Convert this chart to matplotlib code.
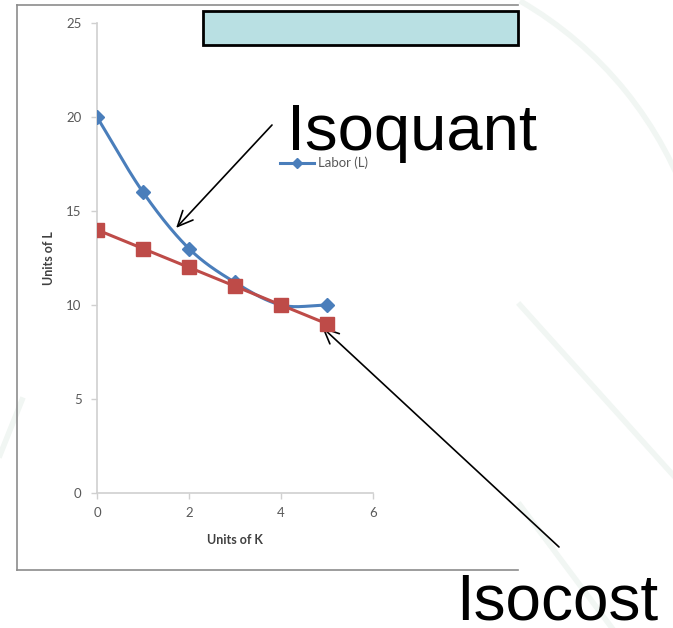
import numpy as np
import matplotlib.pyplot as plt
from matplotlib.lines import Line2D
from matplotlib.patches import Rectangle, Arc

# production data
units_k = [0, 1, 2, 3, 4, 5]
labor_isoquant = [20, 16, 13, 11.2, 10, 10]
labor_isocost = [14, 13, 12, 11, 10, 9]
x_ticks = [0, 2, 4, 6]
y_ticks = [0, 5, 10, 15, 20, 25]

BLUE = '#4a7ebb'
RED = '#be4b48'
GREY_TXT = '#595959'


def smooth(xs, ys, n=30):
    # catmull-rom style smoothing like a spreadsheet "smoothed line"
    xs = np.asarray(xs, float)
    ys = np.asarray(ys, float)
    px = np.concatenate([[2 * xs[0] - xs[1]], xs, [2 * xs[-1] - xs[-2]]])
    py = np.concatenate([[2 * ys[0] - ys[1]], ys, [2 * ys[-1] - ys[-2]]])
    out_x, out_y = [], []
    t = np.linspace(0, 1, n)
    for i in range(1, len(px) - 2):
        for p, out in ((px, out_x), (py, out_y)):
            p0, p1, p2, p3 = p[i - 1], p[i], p[i + 1], p[i + 2]
            out.extend(0.5 * ((2 * p1) + (-p0 + p2) * t
                              + (2 * p0 - 5 * p1 + 4 * p2 - p3) * t ** 2
                              + (-p0 + 3 * p1 - 3 * p2 + p3) * t ** 3))
    return np.array(out_x), np.array(out_y)


W, H = 673, 628
fig = plt.figure(figsize=(W / 100, H / 100), dpi=100)

# faint slide decoration in the background
bg = fig.add_axes([0, 0, 1, 1], zorder=-5)
bg.set_xlim(0, W)
bg.set_ylim(H, 0)
bg.axis('off')
deco = '#f1f6f3'
bg.add_patch(Arc((330, 330), 760, 760, theta1=-60, theta2=-18, color=deco, lw=4))
bg.plot([520, 673], [305, 475], color=deco, lw=4)
bg.plot([520, 612], [505, 628], color=deco, lw=4)
bg.plot([0, 22], [455, 400], color=deco, lw=4)

# chart area frame
frame = '#8c8c8c'
bg.plot([17, 17], [5, 570], color=frame, lw=1.2)
bg.plot([17, 518], [5, 5], color=frame, lw=1.2)
bg.plot([17, 518], [570, 570], color=frame, lw=1.2)

# title placeholder box
bg.add_patch(Rectangle((203, 11), 315, 34, facecolor='#b9e0e3',
                       edgecolor='black', lw=2, zorder=3))

ax = fig.add_axes([97 / W, 1 - 493 / H, 276 / W, 470 / H])
ax.patch.set_alpha(0)

sx, sy = smooth(units_k, labor_isoquant)
ax.plot(sx, sy, color=BLUE, lw=2.2, zorder=2)
ax.plot(units_k, labor_isoquant, linestyle='none', marker='D', ms=7,
        color=BLUE, zorder=3)
ax.plot(units_k, labor_isocost, color=RED, lw=2.2, marker='s', ms=9.5,
        zorder=4)

ax.set_xlim(0, 6)
ax.set_ylim(0, 25)
ax.set_xticks(x_ticks)
ax.set_yticks(y_ticks)
for s in ['top', 'right']:
    ax.spines[s].set_visible(False)
for s in ['left', 'bottom']:
    ax.spines[s].set_color('#d0d0d0')
    ax.spines[s].set_linewidth(1.2)
ax.tick_params(colors='#d0d0d0', labelcolor=GREY_TXT, length=4, width=1,
               labelsize=9.5)
ax.tick_params(axis='y', pad=7)
ax.tick_params(axis='x', pad=6)
for lbl in ax.get_xticklabels() + ax.get_yticklabels():
    lbl.set_family('Lato')

ax.set_xlabel('Units of K', fontsize=9, fontweight='bold', family='Lato',
              color='#404040', labelpad=11)
ax.set_ylabel('Units of L', fontsize=9, fontweight='bold', family='Lato',
              color='#404040', labelpad=8)

# legend (only the labour series is listed)
handle = Line2D([], [], color=BLUE, lw=2.2, marker='D', ms=5)
fig.legend([handle], ['Labor (L)'], loc='center left',
           bbox_to_anchor=(268 / W, 1 - 163 / H), frameon=False,
           handlelength=2.6, handletextpad=0.3,
           prop={'family': 'Lato', 'size': 9.5}, labelcolor=GREY_TXT)

# callouts
fig.text(287 / W, 1 - 150 / H, 'Isoquant', fontsize=47,
         family='Liberation Sans', va='baseline', ha='left')
fig.text(456 / W, 1 - 620 / H, 'Isocost', fontsize=46,
         family='Liberation Sans', va='baseline', ha='left')

arrow = dict(arrowstyle='->,head_length=1.1,head_width=0.5', color='black',
             lw=1.2, shrinkA=0, shrinkB=0)
ax.annotate('', xy=(1.72, 14.1), xycoords='data',
            xytext=(272, H - 125), textcoords='figure pixels',
            arrowprops=arrow, annotation_clip=False)
ax.annotate('', xy=(4.89, 8.83), xycoords='data',
            xytext=(559, H - 547), textcoords='figure pixels',
            arrowprops=arrow, annotation_clip=False)

fig.savefig('out.png', dpi=100)
